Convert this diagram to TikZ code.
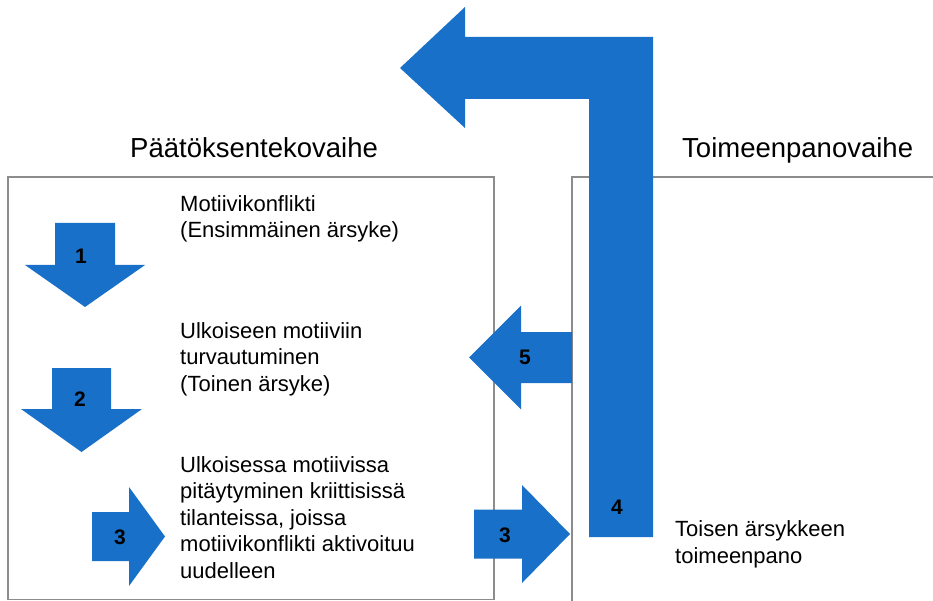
\documentclass[tikz,border=0pt]{standalone}
\usepackage{fontspec}
\setmainfont{Liberation Sans}
\usetikzlibrary{positioning}

\begin{document}
\begin{tikzpicture}[x=1pt, y=-1pt]
  % Define colors
  \definecolor{arrowblue}{RGB}{25,112,200}
  \definecolor{framegray}{RGB}{140,140,140}

  % Styles for headings, stage texts and arrow numbers
  \tikzset{
    phase/.style={font=\fontsize{27.5}{33}\selectfont, inner sep=0pt, anchor=base west},
    stage/.style={font=\fontsize{22}{26.5}\selectfont, inner sep=0pt, anchor=base west, align=left},
    stepnum/.style={font=\fontsize{21}{24}\selectfont\bfseries, inner sep=0pt},
    frame/.style={draw=framegray, line width=1.2pt}
  }

  \useasboundingbox (0,0) rectangle (933,601);

  % Phase frames
  \draw[frame] (8,177) rectangle (494,599.5);
  \draw[frame] (945,177) -- (572,177) -- (572,610);

  % Phase headings above the frames
  \node[phase] (decision) at (130,158) {Päätöksentekovaihe};
  \node[phase] (execution) at (682,158) {Toimeenpanovaihe};

  % Block arrows (start point, direction, shaft/head length, shaft/head half width)
  \foreach \name/\x/\y/\ang/\sl/\hl/\sw/\hw/\num/\lx/\ly in {
    s1/85/223/-90/42/42/30/60/1/81/256,
    s2/81.5/368/-90/41/43/29.5/60.5/2/80/399,
    s3/92/536.5/0/37/36/24.5/49.5/3/120/537,
    t3/474/534/0/48/48/24.5/49/3/505/535,
    t5/572/357.5/180/51/52/25.5/52/5/525/357
  } {
    \fill[arrowblue, shift={(\x,\y)}, rotate=\ang]
      (0,-\sw) -- (\sl,-\sw) -- (\sl,-\hw) -- (\sl+\hl,0) -- (\sl,\hw) -- (\sl,\sw) -- (0,\sw) -- cycle;
    \node[stepnum] (\name) at (\lx,\ly) {\num};
  }

  % Bent arrow from execution back over the top
  \fill[arrowblue] (653,537) -- (653,37) -- (465,37) -- (465,7) -- (400,68)
    -- (465,128) -- (465,99) -- (589,99) -- (589,537) -- cycle;
  \node[stepnum] (t4) at (617,507) {4};

  % Stage texts (anchored at the baseline of their last line)
  \node[stage] (conflict) at (180,238) {Motiivikonflikti\\(Ensimmäinen ärsyke)};
  \node[stage] (outer) at (180,391) {Ulkoiseen motiiviin\\turvautuminen\\(Toinen ärsyke)};
  \node[stage] (keep) at (180,578) {Ulkoisessa motiivissa\\pitäytyminen kriittisissä\\tilanteissa, joissa\\motiivikonflikti aktivoituu\\uudelleen};
  \node[stage] (second) at (675,563) {Toisen ärsykkeen\\toimeenpano};
\end{tikzpicture}
\end{document}
